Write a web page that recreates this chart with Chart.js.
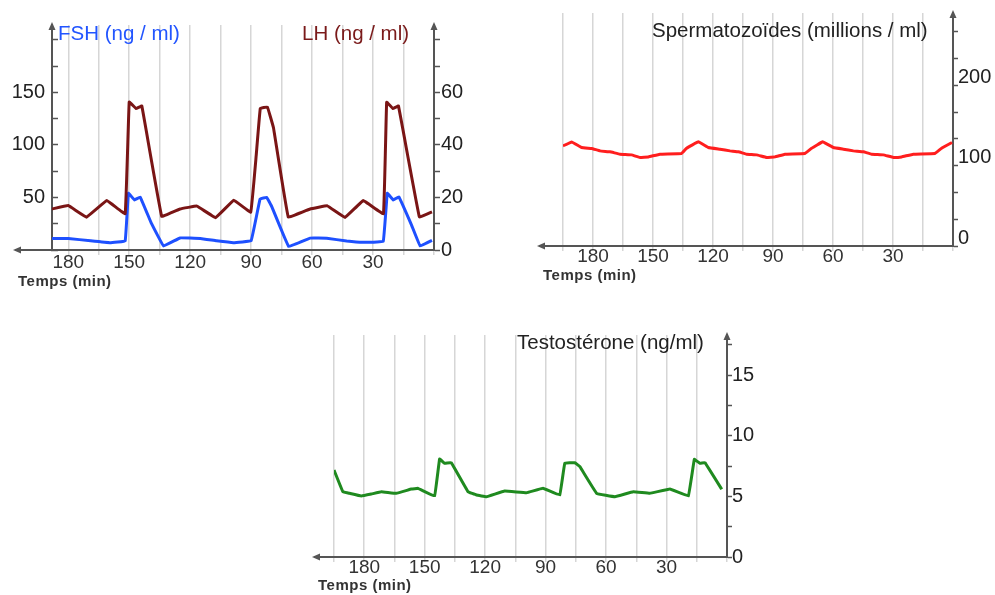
<!DOCTYPE html>
<html>
<head>
<meta charset="utf-8">
<script src="https://cdn.jsdelivr.net/npm/chart.js@4.4.1/dist/chart.umd.min.js"></script>
<style>
  html, body { margin: 0; padding: 0; background: #fff; }
  body { width: 995px; height: 595px; position: relative; overflow: hidden; font-family: 'Liberation Sans', Arial, sans-serif; }
  .box { position: absolute; }
  .lbl { position: absolute; white-space: nowrap; font-size: 20.5px; line-height: 20px; color: #222; }
  .temps { position: absolute; white-space: nowrap; font-weight: bold; font-size: 15px; line-height: 15px; color: #333; letter-spacing: 0.5px; }
</style>
</head>
<body>
<div class="box" style="left:0;top:0"><canvas id="c1" width="480" height="300"></canvas></div>
<div class="box" style="left:500px;top:0"><canvas id="c2" width="495" height="300"></canvas></div>
<div class="box" style="left:300px;top:310px"><canvas id="c3" width="460" height="285"></canvas></div>

<div class="lbl" style="left:58px;top:23px;color:#2255ff">FSH (ng / ml)</div>
<div class="lbl" style="left:302px;top:23px;color:#7a1a1a">LH (ng / ml)</div>
<div class="lbl" style="left:652px;top:20px">Spermatozoïdes (millions / ml)</div>
<div class="lbl" style="left:517px;top:332px">Testostérone (ng/ml)</div>
<div class="temps" style="left:18px;top:273px">Temps (min)</div>
<div class="temps" style="left:543px;top:267px">Temps (min)</div>
<div class="temps" style="left:318px;top:577px">Temps (min)</div>

<script>
'use strict';

// FSH / LH  (time in minutes, axis reads right to left)
var fshTime = [188, 180, 169, 159.5, 152, 150.4, 147.4, 144.6, 139, 133.1, 125, 115, 107, 98.7, 90, 85.6, 82.3, 79.8, 71.5, 61, 52.8, 43, 35, 25, 23, 20, 17.3, 11, 6.8, 1];
var fshVals = [11, 11, 8.7, 6.9, 8.7, 54, 47.6, 50.4, 25, 3.8, 11.5, 11, 8.7, 7, 8.8, 48.5, 50, 41, 3.3, 11.3, 11.2, 8.5, 7.3, 8.2, 54, 47.6, 50.5, 23.5, 3.8, 9.2];

var lhTime = [188, 180, 171, 161, 152, 150, 146.6, 143.8, 134, 125, 116.7, 107.5, 98.5, 90.2, 87.5, 85.5, 82, 79, 71.7, 61, 52.5, 43.8, 34.8, 24.9, 23.3, 20.2, 17.5, 7.2, 1];
var lhVals = [15.6, 16.9, 12.5, 18.8, 13.8, 56.3, 53.8, 54.8, 12.8, 15.6, 16.7, 12.3, 18.9, 14.4, 36, 53.8, 54.4, 46.5, 12.5, 15.6, 16.8, 12.4, 18.8, 13.8, 56.2, 53.8, 54.8, 12.6, 14.5];

// Spermatozoïdes (millions / ml)
var spermTime = [195, 190.7, 185.7, 180.7, 176.5, 171.5, 166.5, 160.7, 156.5, 152.3, 146.5, 135.7, 133.2, 127.3, 122.3, 116.5, 111.5, 107.3, 103.2, 98.2, 93.2, 89, 84, 74, 70.7, 65.2, 59.8, 54.8, 49.8, 44.8, 40.7, 34.8, 29.8, 25.7, 19.8, 9, 5.7, 0.5];
var spermVals = [124.6, 129.6, 122.6, 121.4, 118.4, 117.2, 114.3, 113.4, 110.2, 110.9, 114.3, 115.2, 121.7, 129.6, 122.6, 120.5, 118.4, 117.2, 114.3, 113.4, 110.2, 110.9, 114.3, 115.2, 121.7, 129.6, 122.6, 120.5, 118.4, 117.2, 114.3, 113.4, 110.2, 110.9, 114.3, 115.2, 121.7, 128.8];

// Testostérone (ng/ml)
var testoTime = [195, 190.6, 187.3, 181.5, 176.5, 171.5, 164.1, 156.6, 153.3, 145.1, 142.6, 140.1, 136.8, 128.5, 124.3, 119.4, 110.3, 99.5, 91.3, 83, 80.5, 75.5, 73, 64.7, 55.6, 46.5, 38.3, 28.3, 19.2, 16.2, 13.4, 10.9, 2.6];
var testoVals = [7.17, 5.38, 5.25, 5.03, 5.19, 5.38, 5.25, 5.6, 5.66, 5.03, 8.08, 7.72, 7.77, 5.38, 5.11, 4.97, 5.44, 5.3, 5.66, 5.11, 7.72, 7.77, 7.44, 5.25, 4.97, 5.38, 5.25, 5.6, 5.03, 8.05, 7.72, 7.77, 5.58];

// tick labels shown on each axis
var timeLabels = [180, 150, 120, 90, 60, 30];
var fshLabels = [50, 100, 150];
var lhLabels = [0, 20, 40, 60];
var spermLabels = [0, 100, 200];
var testoLabels = [0, 5, 10, 15];

var FONT = "'Liberation Sans', Arial, sans-serif";
var AXIS = '#555';
var GRID = '#d6d6d6';
var CLEAR = 'rgba(0,0,0,0)';

var onStep = function(v, step){
  var r = v / step;
  return Math.abs(r - Math.round(r)) < 0.001;
};

var showLabel = function(list){
  return function(v){
    for (var i = 0; i < list.length; i++) {
      if (Math.abs(v - list[i]) < 0.01) return list[i];
    }
    return '';
  };
};

var toPoints = function(times, values){
  return times.map(function(t, i){ return {x: t, y: values[i]}; });
};

var line = function(times, values, color, axis){
  return {
    data: toPoints(times, values),
    yAxisID: axis,
    borderColor: color,
    borderWidth: 3,
    pointRadius: 0,
    tension: 0.05,
    borderJoinStyle: 'round',
    fill: false
  };
};

var xScale = function(max, height, pad){
  return {
    type: 'linear',
    reverse: true,
    min: 0,
    max: max,
    border: {display: true, color: AXIS, width: 2},
    grid: {
      color: function(c){ return onStep(c.tick.value, 15) ? GRID : CLEAR; },
      tickColor: function(c){ return onStep(c.tick.value, 15) ? GRID : CLEAR; },
      lineWidth: 1.5,
      tickLength: 5
    },
    ticks: {
      stepSize: 15,
      includeBounds: false,
      autoSkip: false,
      maxRotation: 0,
      padding: pad,
      color: '#333',
      font: {family: FONT, size: 19},
      callback: showLabel(timeLabels)
    },
    afterFit: function(s){ s.height = height; }
  };
};

// tick < 0 puts the tick marks inside the plot
var yScale = function(pos, max, step, labels, width, tick, pad, offset){
  return {
    type: 'linear',
    position: pos,
    min: 0,
    max: max,
    border: {display: true, color: AXIS, width: 2},
    grid: {
      drawOnChartArea: false,
      tickLength: tick,
      tickWidth: 1.5,
      tickColor: function(c){ return onStep(c.tick.value, step) ? AXIS : CLEAR; }
    },
    ticks: {
      stepSize: step,
      includeBounds: false,
      autoSkip: false,
      padding: pad,
      labelOffset: offset,
      color: '#222',
      font: {family: FONT, size: 20},
      callback: showLabel(labels)
    },
    afterFit: function(s){ s.width = width; }
  };
};

// x axis runs on past the plot to the left, arrows at axis ends
var axisArrows = {
  id: 'axisArrows',
  afterDraw: function(chart, args, opts){
    var ctx = chart.ctx;
    var area = chart.chartArea;
    var y = area.bottom;
    ctx.save();
    ctx.strokeStyle = AXIS;
    ctx.fillStyle = AXIS;
    ctx.lineWidth = 2;
    ctx.beginPath();
    ctx.moveTo(area.left, y);
    ctx.lineTo(opts.xEnd + 2, y);
    ctx.stroke();
    ctx.beginPath();
    ctx.moveTo(opts.xEnd, y);
    ctx.lineTo(opts.xEnd + 8, y - 3.5);
    ctx.lineTo(opts.xEnd + 8, y + 3.5);
    ctx.closePath();
    ctx.fill();
    Object.keys(chart.scales).forEach(function(id){
      var s = chart.scales[id];
      if (s.axis !== 'y') return;
      var x = s.position === 'left' ? s.right : s.left;
      ctx.beginPath();
      ctx.moveTo(x, area.top - 3);
      ctx.lineTo(x - 3.5, area.top + 5);
      ctx.lineTo(x + 3.5, area.top + 5);
      ctx.closePath();
      ctx.fill();
    });
    ctx.restore();
  }
};

var baseOptions = function(padding, scales, xEnd){
  return {
    responsive: false,
    animation: false,
    layout: {padding: padding},
    scales: scales,
    plugins: {
      legend: {display: false},
      tooltip: {enabled: false},
      axisArrows: {xEnd: xEnd}
    }
  };
};

var createHormoneChart = function(){
  new Chart(document.getElementById('c1'), {
    type: 'line',
    data: {
      datasets: [
        line(lhTime, lhVals, '#7a1515', 'yLH'),
        line(fshTime, fshVals, '#1e50ff', 'yFSH')
      ]
    },
    options: baseOptions({top: 22, left: 0, right: 0, bottom: 0}, {
      x: xScale(188, 50, -4),
      yFSH: yScale('left', 214, 25, fshLabels, 52, -6, 13, 0),
      yLH: yScale('right', 85.6, 10, lhLabels, 46, 6, 1, 0)
    }, 13),
    plugins: [axisArrows]
  });
};

var createSpermChart = function(){
  new Chart(document.getElementById('c2'), {
    type: 'line',
    data: {datasets: [line(spermTime, spermVals, '#ff1e1e', 'y')]},
    options: baseOptions({top: 13, left: 63, right: 0, bottom: 0}, {
      x: xScale(195, 54, -6),
      y: yScale('right', 290, 100 / 3, spermLabels, 42, 5, 0, -8)
    }, 37),
    plugins: [axisArrows]
  });
};

var createTestoChart = function(){
  new Chart(document.getElementById('c3'), {
    type: 'line',
    data: {datasets: [line(testoTime, testoVals, '#1f8a1f', 'y')]},
    options: baseOptions({top: 25, left: 34, right: 0, bottom: 0}, {
      x: xScale(195, 38, -6),
      y: yScale('right', 18.3, 2.5, testoLabels, 33, 5, 0, 0)
    }, 12),
    plugins: [axisArrows]
  });
};

!function(){
  createHormoneChart();
  createSpermChart();
  createTestoChart();
}();
</script>
</body>
</html>
